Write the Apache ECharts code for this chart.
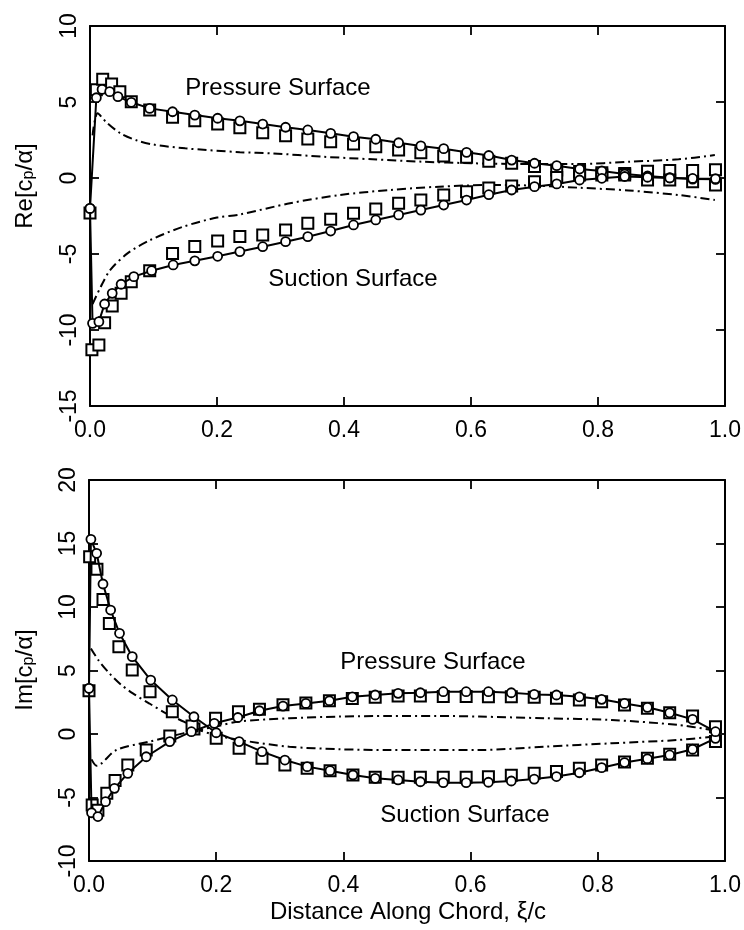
<!DOCTYPE html>
<html><head><meta charset="utf-8">
<script src="https://cdn.jsdelivr.net/npm/echarts@6/dist/echarts.min.js"></script>
<style>html,body{margin:0;padding:0;background:#fff}#c{width:744px;height:930px}</style>
</head><body><div id="c"></div>
<script>
// ---------- tick settings ----------
const xTickMin = 0, xTickMax = 1, xTickStep = 0.2;
const reTickMin = -15, reTickMax = 10, reTickStep = 5;
const imTickMin = -10, imTickMax = 20, imTickStep = 5;

// ---------- Top panel: Re[cp/alpha] ----------
const rePressCircX = [0.0,0.010,0.019,0.031,0.044,0.065,0.094,0.130,0.165,0.201,0.236,0.272,0.308,0.343,0.379,0.415,0.450,0.486,0.521,0.557,0.593,0.628,0.664,0.700,0.735,0.771,0.806,0.842,0.878,0.913,0.949,0.985];
const rePressCircY = [-2.0,5.28,5.83,5.68,5.35,4.98,4.58,4.36,4.14,3.93,3.76,3.55,3.34,3.16,2.94,2.72,2.55,2.32,2.11,1.93,1.69,1.48,1.18,0.97,0.81,0.59,0.46,0.26,0.13,0.02,-0.07,-0.09];
const reSuctCircX = [0.0,0.004,0.014,0.023,0.035,0.049,0.069,0.097,0.131,0.165,0.201,0.236,0.272,0.308,0.343,0.379,0.415,0.450,0.486,0.521,0.557,0.593,0.628,0.664,0.700,0.735,0.771,0.806,0.842,0.878,0.913,0.949,0.985];
const reSuctCircY = [-2.0,-9.56,-9.45,-8.29,-7.59,-6.99,-6.49,-6.10,-5.72,-5.45,-5.15,-4.84,-4.52,-4.19,-3.86,-3.49,-3.09,-2.76,-2.43,-2.11,-1.78,-1.45,-1.10,-0.79,-0.57,-0.39,-0.13,-0.02,0.10,0.05,0.0,-0.03,-0.05];
const rePressSqX = [0.0,0.010,0.020,0.034,0.047,0.065,0.094,0.130,0.165,0.201,0.236,0.272,0.308,0.343,0.379,0.415,0.450,0.486,0.521,0.557,0.593,0.628,0.664,0.700,0.735,0.771,0.806,0.842,0.878,0.913,0.949,0.985];
const rePressSqY = [-2.3,5.8,6.49,6.18,5.68,5.02,4.47,3.99,3.77,3.55,3.30,2.98,2.78,2.57,2.39,2.24,2.06,1.84,1.66,1.45,1.36,1.10,0.97,0.75,0.53,0.42,0.35,0.30,0.45,0.50,0.50,0.55];
const reSuctSqX = [0.003,0.014,0.023,0.035,0.049,0.065,0.094,0.130,0.165,0.201,0.236,0.272,0.308,0.343,0.379,0.415,0.450,0.486,0.521,0.557,0.593,0.628,0.664,0.700,0.735,0.771,0.806,0.842,0.878,0.913,0.949,0.985];
const reSuctSqY = [-11.3,-10.99,-9.52,-8.42,-7.59,-6.82,-6.10,-4.96,-4.50,-4.15,-3.85,-3.75,-3.42,-2.98,-2.72,-2.32,-2.04,-1.66,-1.45,-1.12,-0.90,-0.65,-0.53,-0.24,0.04,0.20,0.20,0.20,-0.13,-0.13,-0.24,-0.46];
const reTheoryUpX = [0.004,0.012,0.025,0.048,0.075,0.10,0.15,0.236,0.288,0.367,0.445,0.524,0.602,0.68,0.77,0.848,0.927,0.984];
const reTheoryUpY = [2.8,4.26,3.7,2.94,2.45,2.2,1.95,1.7,1.62,1.40,1.23,1.07,0.97,0.92,0.92,1.07,1.23,1.51];
const reTheoryLoX = [0.004,0.017,0.032,0.059,0.095,0.147,0.200,0.236,0.315,0.393,0.472,0.55,0.629,0.70,0.77,0.848,0.927,0.984];
const reTheoryLoY = [-8.3,-7.15,-6.05,-4.96,-4.08,-3.2,-2.6,-2.4,-1.66,-1.12,-0.79,-0.57,-0.46,-0.5,-0.64,-0.82,-1.12,-1.45];

// ---------- Bottom panel: Im[cp/alpha] ----------
const imACircX = [0.0,0.003,0.012,0.022,0.034,0.048,0.068,0.097,0.131,0.165,0.200,0.236,0.272,0.308,0.343,0.379,0.415,0.450,0.486,0.521,0.557,0.593,0.628,0.664,0.700,0.735,0.771,0.806,0.842,0.878,0.913,0.949,0.985];
const imACircY = [3.6,15.33,14.23,11.81,9.76,7.93,6.09,4.25,2.68,1.36,0.1,-0.6,-1.39,-2.05,-2.57,-2.89,-3.23,-3.49,-3.62,-3.76,-3.83,-3.83,-3.80,-3.70,-3.55,-3.35,-3.05,-2.65,-2.25,-1.95,-1.65,-1.20,-0.34];
const imBCircX = [0.0,0.004,0.014,0.026,0.040,0.061,0.090,0.127,0.161,0.197,0.234,0.268,0.305,0.341,0.378,0.414,0.450,0.486,0.521,0.557,0.593,0.628,0.664,0.700,0.735,0.771,0.806,0.842,0.878,0.913,0.949,0.985];
const imBCircY = [3.6,-6.2,-6.5,-5.33,-4.28,-3.10,-1.79,-0.60,0.18,0.84,1.30,1.83,2.20,2.41,2.62,2.93,3.07,3.20,3.25,3.33,3.33,3.33,3.25,3.12,3.07,2.93,2.73,2.41,2.10,1.67,1.15,0.18];
const imASqX = [0.001,0.0125,0.022,0.032,0.047,0.068,0.096,0.131,0.165,0.200,0.236,0.272,0.308,0.343,0.379,0.415,0.450,0.486,0.521,0.557,0.593,0.628,0.664,0.700,0.735,0.771,0.806,0.842,0.878,0.913,0.949,0.985];
const imASqY = [13.96,12.97,10.6,8.71,6.87,5.04,3.33,1.76,0.40,-0.34,-1.13,-1.91,-2.44,-2.70,-2.89,-3.23,-3.41,-3.41,-3.41,-3.41,-3.41,-3.36,-3.25,-3.10,-2.95,-2.70,-2.45,-2.20,-1.91,-1.60,-1.26,-0.60];
const imBSqX = [0.0,0.005,0.014,0.028,0.041,0.061,0.090,0.127,0.162,0.199,0.235,0.268,0.305,0.341,0.378,0.414,0.450,0.486,0.521,0.557,0.593,0.628,0.664,0.700,0.735,0.771,0.806,0.842,0.878,0.913,0.949,0.985];
const imBSqY = [3.4,-5.6,-6.0,-4.67,-3.67,-2.44,-1.26,-0.16,0.63,1.24,1.76,1.95,2.30,2.45,2.62,2.80,2.90,3.00,3.00,2.95,2.95,2.94,2.94,2.89,2.81,2.68,2.54,2.28,2.02,1.67,1.42,0.57];
const imTheoryAX = [0.003,0.015,0.032,0.05,0.069,0.095,0.121,0.15,0.174,0.2,0.236,0.315,0.393,0.472,0.55,0.613,0.717,0.822,0.927,0.979];
const imTheoryAY = [6.74,5.8,4.78,3.9,3.2,2.4,1.63,0.95,0.31,-0.1,-0.47,-1.0,-1.2,-1.26,-1.26,-1.26,-1.0,-0.73,-0.47,-0.21];
const imTheoryBX = [0.004,0.012,0.043,0.095,0.148,0.2,0.236,0.315,0.393,0.472,0.55,0.613,0.717,0.822,0.927,0.979];
const imTheoryBY = [-2.0,-2.5,-1.26,-0.6,0.05,0.6,0.98,1.24,1.37,1.42,1.42,1.37,1.24,1.1,0.71,0.31];

// ---------- text ----------
const reTitle = 'Re[c{s|p}/α]';
const imTitle = 'Im[c{s|p}/α]';
const xTitle = 'Distance Along Chord, ξ/c';
const pressLabel = 'Pressure Surface';
const suctLabel = 'Suction Surface';

function pairs(xs, ys) { return xs.map((x, i) => [x, ys[i]]); }

const FONT = 'Liberation Sans, Arial, Helvetica, sans-serif';
const BLACK = '#000';
const TICK_FS = 23;
const TEXT_FS = 24;

function xAx(grid, pos, showLabel) {
  return {
    type: 'value', gridIndex: grid, position: pos,
    min: xTickMin, max: xTickMax, interval: xTickStep,
    axisLine: { show: true, onZero: false, lineStyle: { color: BLACK, width: 2 } },
    axisTick: { show: true, inside: true, length: 9, lineStyle: { color: BLACK, width: 1.8 } },
    splitLine: { show: false },
    axisLabel: { show: showLabel, color: BLACK, fontSize: TICK_FS, fontFamily: FONT, margin: 13,
      formatter: v => v.toFixed(1) }
  };
}
function yAx(grid, pos, showLabel, mn, mx, st) {
  return {
    type: 'value', gridIndex: grid, position: pos,
    min: mn, max: mx, interval: st,
    axisLine: { show: true, onZero: false, lineStyle: { color: BLACK, width: 2 } },
    axisTick: { show: true, inside: true, length: 9, lineStyle: { color: BLACK, width: 1.8 } },
    splitLine: { show: false },
    axisLabel: { show: showLabel, color: BLACK, fontSize: TICK_FS, fontFamily: FONT, margin: 9, rotate: 90,
      formatter: v => String(v) }
  };
}

function circLine(xi, yi, xs, ys) {
  return {
    type: 'line', xAxisIndex: xi, yAxisIndex: yi, data: pairs(xs, ys),
    symbol: 'circle', symbolSize: 9, showAllSymbol: true, z: 4,
    lineStyle: { color: BLACK, width: 2 },
    itemStyle: { color: '#fff', borderColor: BLACK, borderWidth: 1.8, opacity: 1 }
  };
}
function squares(xi, yi, xs, ys) {
  return {
    type: 'scatter', xAxisIndex: xi, yAxisIndex: yi, data: pairs(xs, ys),
    symbol: 'rect', symbolSize: 11, z: 3,
    itemStyle: { color: '#fff', borderColor: BLACK, borderWidth: 2, opacity: 1 }
  };
}
function dashDot(xi, yi, xs, ys) {
  return {
    type: 'line', xAxisIndex: xi, yAxisIndex: yi, data: pairs(xs, ys),
    symbol: 'none', smooth: 0.3, z: 2,
    lineStyle: { color: BLACK, width: 2, type: [9, 4, 2, 4] }
  };
}

const txt = (x, y, text) => ({
  type: 'text', x: x, y: y, silent: true,
  style: { text: text, fill: BLACK, font: TEXT_FS + 'px ' + FONT, align: 'center', verticalAlign: 'middle' }
});
const rotTitle = (x, y, text) => ({
  type: 'text', x: x, y: y, rotation: Math.PI / 2, silent: true,
  style: { text: text, fill: BLACK, font: TEXT_FS + 'px ' + FONT, align: 'center', verticalAlign: 'middle',
    rich: { s: { fontSize: 16, fontFamily: FONT, verticalAlign: 'bottom', lineHeight: 16 } } }
});

const option = {
  animation: false,
  backgroundColor: '#fff',
  grid: [
    { left: 90, right: 17, top: 26, height: 380 },
    { left: 89, right: 17, top: 480, height: 381 }
  ],
  xAxis: [xAx(0, 'bottom', true), xAx(0, 'top', false), xAx(1, 'bottom', true), xAx(1, 'top', false)],
  yAxis: [
    yAx(0, 'left', true, reTickMin, reTickMax, reTickStep), yAx(0, 'right', false, reTickMin, reTickMax, reTickStep),
    yAx(1, 'left', true, imTickMin, imTickMax, imTickStep), yAx(1, 'right', false, imTickMin, imTickMax, imTickStep)
  ],
  series: [
    dashDot(0, 0, reTheoryUpX, reTheoryUpY),
    dashDot(0, 0, reTheoryLoX, reTheoryLoY),
    squares(0, 0, rePressSqX, rePressSqY),
    squares(0, 0, reSuctSqX, reSuctSqY),
    circLine(0, 0, rePressCircX, rePressCircY),
    circLine(0, 0, reSuctCircX, reSuctCircY),
    dashDot(2, 2, imTheoryAX, imTheoryAY),
    dashDot(2, 2, imTheoryBX, imTheoryBY),
    squares(2, 2, imASqX, imASqY),
    squares(2, 2, imBSqX, imBSqY),
    circLine(2, 2, imACircX, imACircY),
    circLine(2, 2, imBCircX, imBCircY)
  ],
  graphic: [
    txt(278, 88, pressLabel),
    txt(353, 279, suctLabel),
    txt(433, 662, pressLabel),
    txt(465, 815, suctLabel),
    txt(408, 912, xTitle),
    rotTitle(25, 186, reTitle),
    rotTitle(25, 670, imTitle)
  ]
};

const chart = echarts.init(document.getElementById('c'), null, { renderer: 'canvas' });
chart.setOption(option);
</script>
</body></html>
